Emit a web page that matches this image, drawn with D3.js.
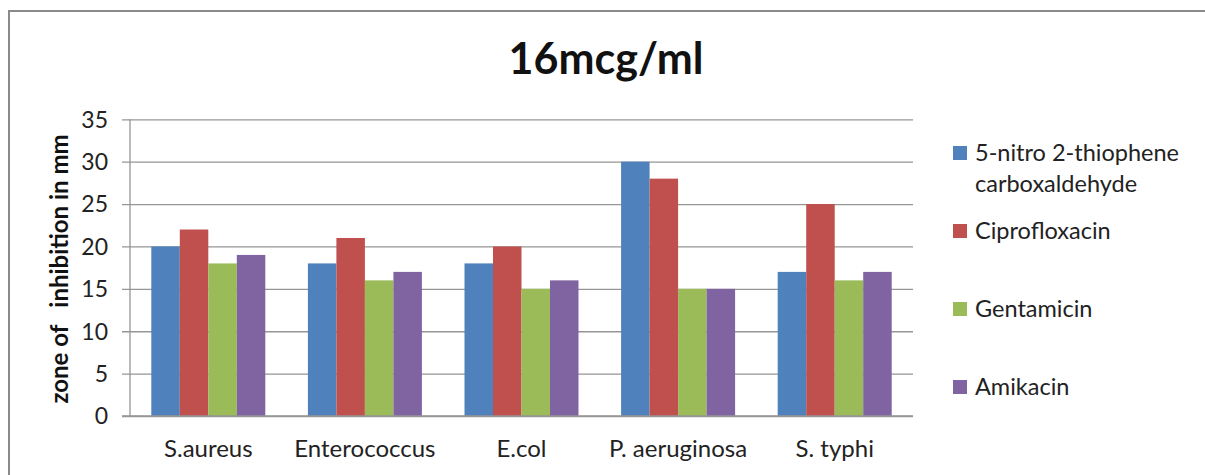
<!DOCTYPE html>
<html>
<head>
<meta charset="utf-8">
<script src="https://cdn.jsdelivr.net/npm/d3@7"></script>
<style>
  html, body { margin: 0; padding: 0; background: #fff; }
  svg { display: block; font-family: Lato, "Open Sans", sans-serif; }
  svg text { font-family: Lato, "Open Sans", sans-serif; }
</style>
</head>
<body>
<svg id="chart" width="1205" height="475"></svg>
<script>
// Bacterial strains tested
const categories = ["S.aureus", "Enterococcus", "E.col", "P. aeruginosa", "S. typhi"];
// Compounds / antibiotics
const seriesNames = ["5-nitro 2-thiophene carboxaldehyde", "Ciprofloxacin", "Gentamicin", "Amikacin"];
// Zone of inhibition (mm), one array per compound, in category order
const nitroThiophene = [20, 18, 18, 30, 17];
const ciprofloxacin  = [22, 21, 20, 28, 25];
const gentamicin     = [18, 16, 15, 15, 16];
const amikacin       = [19, 17, 16, 15, 17];
const yTicks = [0, 5, 10, 15, 20, 25, 30, 35];

const seriesValues = [nitroThiophene, ciprofloxacin, gentamicin, amikacin];
const colors = ["#4F81BD", "#C0504D", "#9BBB59", "#8064A2"];
const font = 'Lato, "Open Sans", sans-serif';

const svg = d3.select("#chart");

// outer frame (top and left edges visible)
svg.append("path")
  .attr("d", "M9,475 V11 H1205")
  .attr("fill", "none")
  .attr("stroke", "#8a8a8a")
  .attr("stroke-width", 2);

const plot = { left: 130, right: 913, top: 119.3, bottom: 416 };

const x = d3.scaleBand()
  .domain(categories)
  .range([plot.left, plot.right])
  .paddingInner(0.272)
  .paddingOuter(0.136);

const x1 = d3.scaleBand()
  .domain(d3.range(seriesNames.length))
  .range([0, x.bandwidth()]);

const y = d3.scaleLinear().domain([0, 35]).range([plot.bottom, plot.top]);

// gridlines + y axis ticks
const yAxis = d3.axisLeft(y)
  .tickValues(yTicks)
  .tickSize(-(plot.right - plot.left))
  .tickPadding(14)
  .tickSizeOuter(0);

const gy = svg.append("g")
  .attr("transform", `translate(${plot.left},0)`)
  .call(yAxis)
  .attr("font-family", font)
  .attr("font-size", 23);
gy.select(".domain").remove();
gy.selectAll(".tick line")
  .attr("x1", -8)
  .attr("stroke", "#969696")
  .attr("stroke-width", 1.3);
gy.selectAll(".tick text")
  .attr("fill", "#222")
  .attr("x", -22)
  .attr("dy", "0.34em");

// vertical axis line
svg.append("line")
  .attr("x1", plot.left).attr("x2", plot.left)
  .attr("y1", plot.top).attr("y2", plot.bottom)
  .attr("stroke", "#969696").attr("stroke-width", 1.3);

// bars
const groups = svg.append("g").selectAll("g")
  .data(categories)
  .join("g")
  .attr("transform", d => `translate(${x(d)},0)`);

groups.selectAll("rect")
  .data((d, i) => seriesValues.map((vals, s) => ({ s, v: vals[i] })))
  .join("rect")
  .attr("x", d => x1(d.s))
  .attr("width", x1.bandwidth())
  .attr("y", d => y(d.v))
  .attr("height", d => y(0) - y(d.v))
  .attr("fill", d => colors[d.s]);

// x axis labels
const xAxis = d3.axisBottom(x).tickSize(0).tickPadding(24);
const gx = svg.append("g")
  .attr("transform", `translate(0,${plot.bottom})`)
  .call(xAxis)
  .attr("font-family", font)
  .attr("font-size", 24);
gx.select(".domain").remove();
gx.selectAll(".tick text")
  .attr("fill", "#222");

// baseline drawn on top of bars
svg.append("line")
  .attr("x1", plot.left - 8).attr("x2", plot.right)
  .attr("y1", plot.bottom).attr("y2", plot.bottom)
  .attr("stroke", "#969696").attr("stroke-width", 1.3);

// y axis title
svg.append("text")
  .attr("transform", `translate(68,269) rotate(-90)`)
  .attr("text-anchor", "middle")
  .attr("fill", "#111")
  .style("font-size", "24px")
  .style("font-weight", "bold")
  .style("white-space", "pre")
  .attr("xml:space", "preserve")
  .text("zone of   inhibition in mm");

// chart title
svg.append("text")
  .attr("x", 606)
  .attr("y", 74)
  .attr("text-anchor", "middle")
  .attr("fill", "#111")
  .style("font-size", "43px")
  .style("font-weight", "bold")
  .text("16mcg/ml");

// legend
const legendRows = [
  { lines: ["5-nitro 2-thiophene", "carboxaldehyde"], y: 161 },
  { lines: ["Ciprofloxacin"], y: 239 },
  { lines: ["Gentamicin"], y: 317 },
  { lines: ["Amikacin"], y: 395 }
];
const legend = svg.append("g");
legendRows.forEach((row, i) => {
  legend.append("rect")
    .attr("x", 953).attr("y", row.y - 15)
    .attr("width", 14).attr("height", 14)
    .attr("fill", colors[i]);
  const t = legend.append("text")
    .attr("x", 975).attr("y", row.y)
    .attr("fill", "#222")
    .style("font-size", "23.5px");
  row.lines.forEach((ln, j) => {
    t.append("tspan").attr("x", 975).attr("dy", j === 0 ? 0 : 31).text(ln);
  });
});
</script>
</body>
</html>
